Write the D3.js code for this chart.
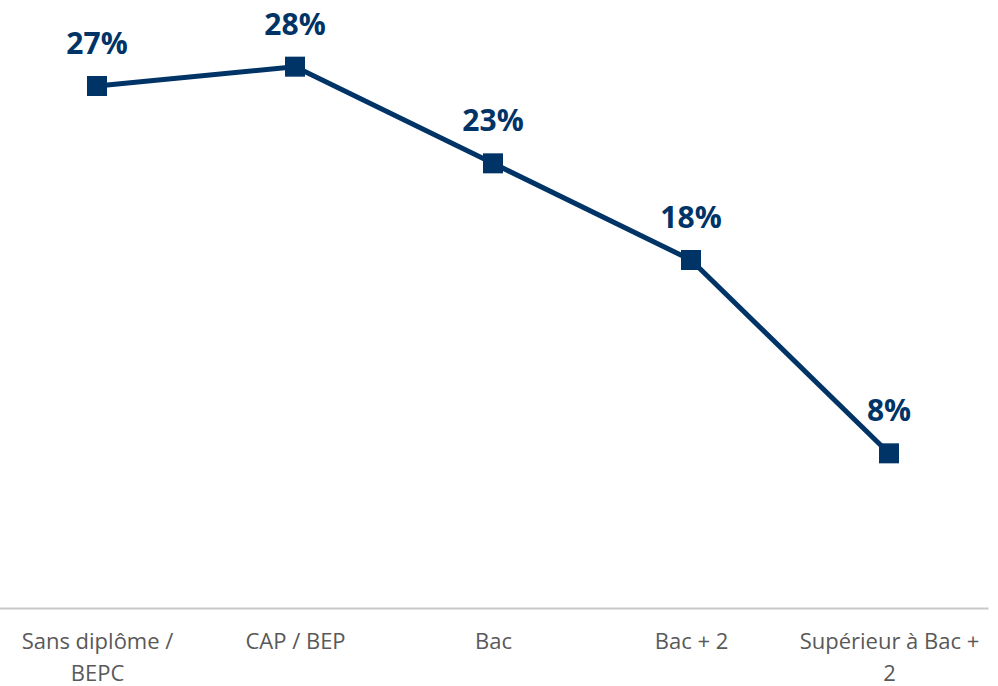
<!DOCTYPE html>
<html>
<head>
<meta charset="utf-8">
<script src="https://cdn.jsdelivr.net/npm/d3@7"></script>
<style>
  body { margin: 0; background: #fff; }
  svg { display: block; }
</style>
</head>
<body>
<div id="chart"></div>
<script>
var width = 998;
var height = 686;

// data
var categories = ["Sans diplôme / BEPC", "CAP / BEP", "Bac", "Bac + 2", "Supérieur à Bac + 2"];
var values = [0.27, 0.28, 0.23, 0.18, 0.08];
var valueLabels = ["27%", "28%", "23%", "18%", "8%"];

var navy = "#003366";

var svg = d3.select("#chart")
    .append("svg")
    .attr("width", width)
    .attr("height", height);

var xScale = d3.scalePoint().domain(categories).range([-2, 988]).padding(0.5);
var yScale = d3.scaleLinear().domain([0, 0.30]).range([608, 28]);

// x axis
var xAxis = d3.axisBottom(xScale).tickSize(0).tickSizeOuter(0);
var gx = svg.append("g")
    .attr("transform", "translate(0,608)")
    .call(xAxis);
gx.select(".domain").attr("stroke", "#c8c8c8").attr("stroke-width", 2);
gx.selectAll("text")
    .attr("fill", "#595959")
    .style("font-family", "'Open Sans', sans-serif")
    .style("font-size", "22px")
    .attr("y", 0)
    .attr("dy", 0)
    .call(wrap, 192);

function wrap(text, w) {
  text.each(function() {
    var t = d3.select(this);
    var words = t.text().split(/\s+/);
    var line = [];
    var lineNo = 0;
    t.text(null);
    var tspan = t.append("tspan").attr("x", 0).attr("y", 41);
    words.forEach(function(word) {
      line.push(word);
      tspan.text(line.join(" "));
      if (tspan.node().getComputedTextLength() > w && line.length > 1) {
        line.pop();
        tspan.text(line.join(" "));
        line = [word];
        lineNo++;
        tspan = t.append("tspan").attr("x", 0).attr("y", 41 + lineNo * 32).text(word);
      }
    });
  });
}

// line
var line = d3.line()
    .x(function(d, i) { return xScale(categories[i]); })
    .y(function(d) { return yScale(d); });

svg.append("path")
    .datum(values)
    .attr("fill", "none")
    .attr("stroke", navy)
    .attr("stroke-width", 5)
    .attr("stroke-linejoin", "round")
    .attr("d", line);

// markers
svg.selectAll("rect.marker")
    .data(values)
    .enter()
    .append("rect")
    .attr("class", "marker")
    .attr("x", function(d, i) { return xScale(categories[i]) - 10; })
    .attr("y", function(d) { return yScale(d) - 10; })
    .attr("width", 20)
    .attr("height", 20)
    .attr("fill", navy);

// value labels
svg.selectAll("text.label")
    .data(values)
    .enter()
    .append("text")
    .attr("class", "label")
    .attr("x", function(d, i) { return xScale(categories[i]); })
    .attr("y", function(d) { return yScale(d) - 32; })
    .attr("text-anchor", "middle")
    .attr("fill", navy)
    .style("font-family", "'Open Sans', sans-serif")
    .style("font-weight", "bold")
    .style("font-size", "30px")
    .text(function(d, i) { return valueLabels[i]; });
</script>
</body>
</html>
